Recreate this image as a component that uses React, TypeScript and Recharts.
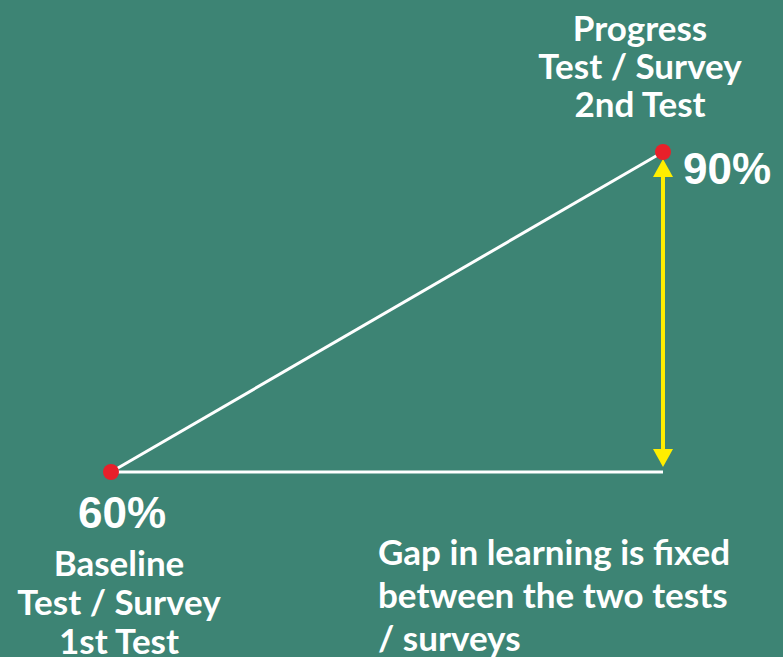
import { LineChart, Line, XAxis, YAxis, ReferenceLine, LabelList } from "recharts";

const stages = ["Baseline", "Progress"];
const stagePos = [0, 1];
const scores = [60, 90];
const captions = [
  ["Baseline", "Test / Survey", "1st Test"],
  ["Progress", "Test / Survey", "2nd Test"],
];
const noteLines = ["Gap in learning is fixed", "between the two tests", "/ surveys"];

const data = stages.map((s, i) => ({ stage: s, x: stagePos[i], score: scores[i] }));

const BG = "#3d8474";
const CAPTION_FONT = "Lato, 'Open Sans', sans-serif";
const PCT_FONT = "'Liberation Sans', Arial, sans-serif";

const PointLabel = (props: any) => {
  const { x, y, index, value } = props;
  const lines = captions[index];
  if (index === 0) {
    return (
      <g>
        <text x={x + 11} y={y + 40} fill="#fff" fontFamily={PCT_FONT} fontWeight={700} fontSize={44} textAnchor="middle" dominantBaseline="central">
          {value}%
        </text>
        {lines.map((l, i) => (
          <text key={i} x={x + 8} y={y + 90 + i * 39} fill="#fff" fontFamily={CAPTION_FONT} fontWeight={700} fontSize={35} textAnchor="middle" dominantBaseline="central">
            {l}
          </text>
        ))}
      </g>
    );
  }
  return (
    <g>
      <text x={x + 20} y={y + 16} fill="#fff" fontFamily={PCT_FONT} fontWeight={700} fontSize={44} textAnchor="start" dominantBaseline="central">
        {value}%
      </text>
      {lines.map((l, i) => (
        <text key={i} x={x - 23} y={y - 125 + i * 38} fill="#fff" fontFamily={CAPTION_FONT} fontWeight={700} fontSize={35} textAnchor="middle" dominantBaseline="central">
          {l}
        </text>
      ))}
    </g>
  );
};

const GapArrow = (props: any) => {
  const { x1, y1, x2, y2 } = props;
  const top = Math.min(y1, y2) + 7;
  const bottom = Math.max(y1, y2) - 5;
  const x = x1;
  const hw = 10;
  const hh = 18;
  return (
    <g>
      <line x1={x} y1={top + hh} x2={x} y2={bottom - hh} stroke="#ffee00" strokeWidth={4} />
      <polygon points={`${x},${top} ${x - hw},${top + hh} ${x + hw},${top + hh}`} fill="#ffee00" />
      <polygon points={`${x},${bottom} ${x - hw},${bottom - hh} ${x + hw},${bottom - hh}`} fill="#ffee00" />
    </g>
  );
};

export default function App() {
  return (
    <div style={{ position: "fixed", left: 0, top: 0, width: 783, height: 657, background: BG, overflow: "hidden" }}>
      <LineChart width={783} height={657} data={data} margin={{ top: 152, right: 120, bottom: 185, left: 111 }}>
        <XAxis dataKey="x" type="number" domain={[0, 1]} hide />
        <YAxis type="number" domain={[60, 90]} hide />
        <ReferenceLine
          segment={[{ x: stagePos[0], y: scores[0] }, { x: stagePos[1], y: scores[0] }]}
          stroke="#ffffff"
          strokeWidth={3}
          ifOverflow="visible"
        />
        <ReferenceLine
          segment={[{ x: stagePos[1], y: scores[0] }, { x: stagePos[1], y: scores[1] }]}
          shape={GapArrow}
          ifOverflow="visible"
        />
        <Line
          dataKey="score"
          stroke="#ffffff"
          strokeWidth={3}
          isAnimationActive={false}
          dot={{ r: 8, fill: "#e8202a", stroke: "none" }}
          activeDot={false}
        >
          <LabelList dataKey="score" content={PointLabel} />
        </Line>
      </LineChart>
      <div style={{ position: "absolute", left: 378, top: 530, fontFamily: CAPTION_FONT, fontWeight: 700, fontSize: 35, lineHeight: "43px", color: "#fff", whiteSpace: "nowrap" }}>
        {noteLines.map((l, i) => (
          <div key={i}>{l}</div>
        ))}
      </div>
    </div>
  );
}
